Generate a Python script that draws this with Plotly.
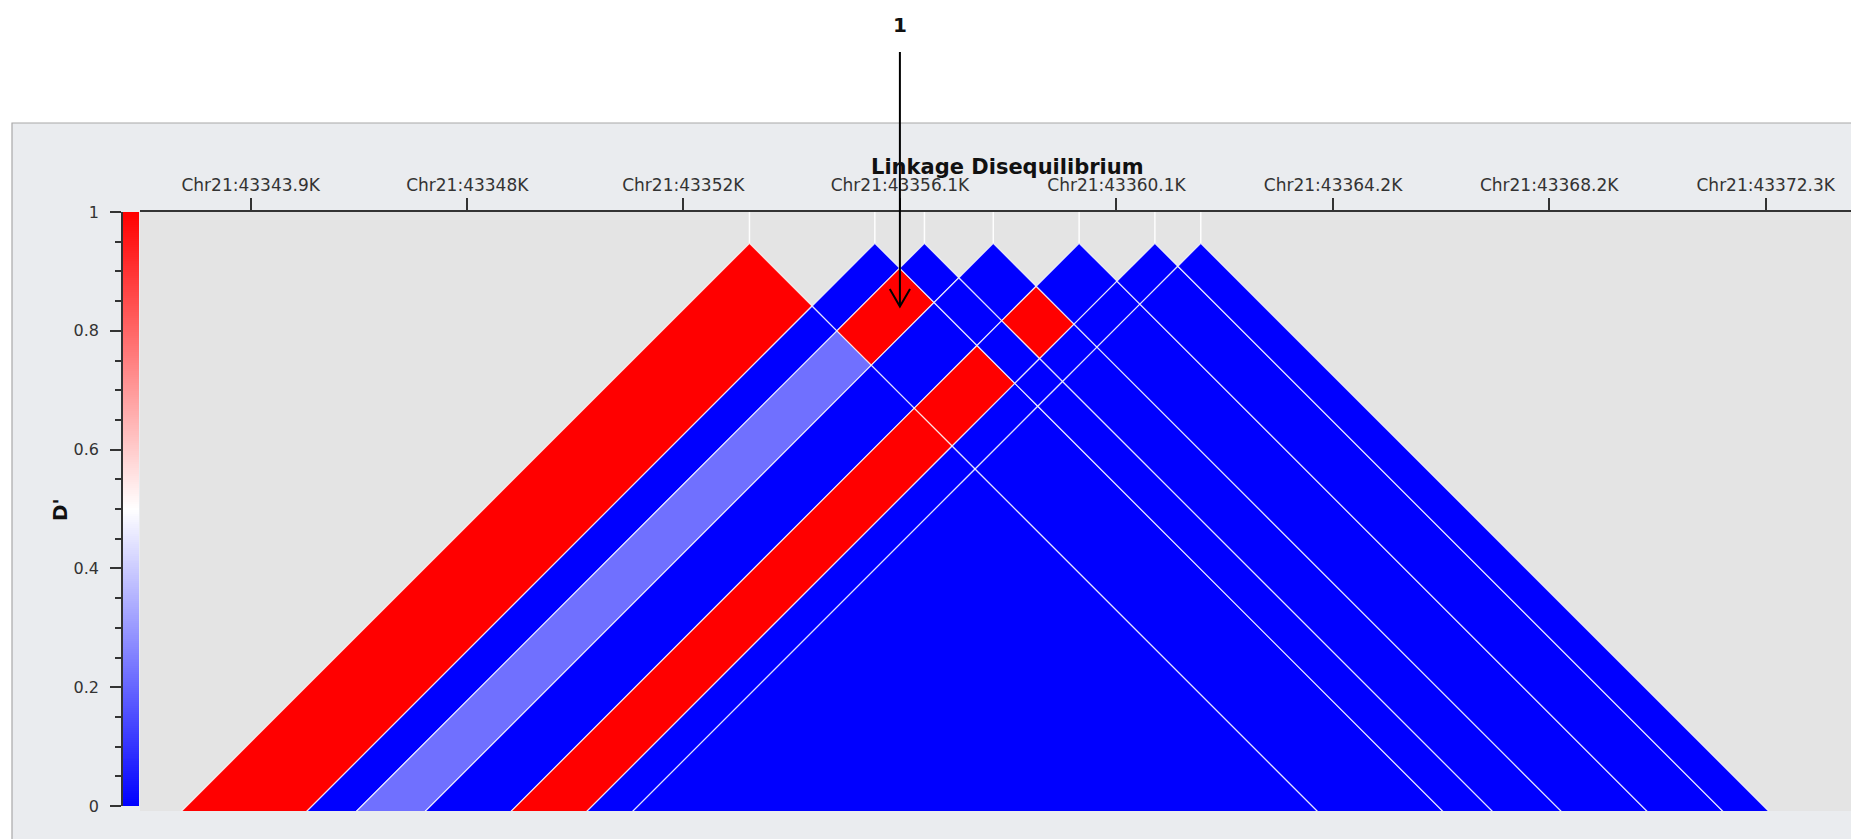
import plotly.graph_objects as go
from plotly.colors import sample_colorscale

# ---------------- data ----------------
# SNP positions (kb on Chr21)
snp_pos_kb = [43353.25, 43355.60, 43356.53, 43357.82, 43359.43, 43360.85, 43361.71]

# D' values per diagonal band: row a = band to the right of SNP a,
# entry b = cell crossing the band to the left of SNP b+1 (b = 0 is the outer band)
dprime_band1 = [1.00]
dprime_band2 = [0.00, 0.00]
dprime_band3 = [0.22, 1.00, 0.00]
dprime_band4 = [0.00, 0.00, 0.00, 0.00]
dprime_band5 = [1.00, 1.00, 0.00, 1.00, 0.00]
dprime_band6 = [0.00, 0.00, 0.00, 0.00, 0.00, 0.00]
dprime_band7 = [0.00, 0.00, 0.00, 0.00, 0.00, 0.00, 0.00]
dprime_rows = [dprime_band1, dprime_band2, dprime_band3, dprime_band4,
               dprime_band5, dprime_band6, dprime_band7]

tick_vals = [43343.90, 43347.96, 43352.01, 43356.07, 43360.13, 43364.19, 43368.24, 43372.30]
tick_text = ["Chr21:43343.9K", "Chr21:43348K", "Chr21:43352K", "Chr21:43356.1K",
             "Chr21:43360.1K", "Chr21:43364.2K", "Chr21:43368.2K", "Chr21:43372.3K"]

arrow_label = "1"
arrow_pos_kb = 43356.07

# ---------------- style / layout ----------------
OFF = 8                              # page body margin
W, H = 1859 - OFF, 839 - OFF
PL, PT, PB = 140 - OFF, 212 - OFF, 811 - OFF   # plot area (figure pixels)
PH = PB - PT
FONT = "DejaVu Sans"
colorscale = [[0.0, "#0000ff"], [0.5, "#ffffff"], [1.0, "#ff0000"]]
x_range = [43341.825, 43374.049]
y_range = [-10.642, 0.587]          # tips of the triangle at y = 0
EXT = 25.0
Y_CLIP = y_range[0] - 0.08


def px(x):
    """screen x (reference pixels) -> paper"""
    return (x - OFF) / W


def py(y):
    """screen y (reference pixels) -> paper"""
    return (PB - (y - OFF)) / PH


def clip_bottom(pts, ylim):
    """keep the part of a polygon with y >= ylim"""
    out = []
    m = len(pts)
    for i in range(m):
        p, q = pts[i], pts[(i + 1) % m]
        pin, qin = p[1] >= ylim, q[1] >= ylim
        if pin:
            out.append(p)
        if pin != qin:
            t = (ylim - p[1]) / (q[1] - p[1])
            out.append((p[0] + t * (q[0] - p[0]), ylim))
    return out


fig = go.Figure()

# LD cells
n = len(snp_pos_kb)
for a in range(1, n + 1):
    u_lo = snp_pos_kb[a - 1]
    u_hi = snp_pos_kb[a] if a < n else snp_pos_kb[-1] + EXT
    for b, val in enumerate(dprime_rows[a - 1]):
        v_lo = snp_pos_kb[b - 1] if b > 0 else snp_pos_kb[0] - EXT
        v_hi = snp_pos_kb[b]
        uv = [(u_lo, v_hi), (u_hi, v_hi), (u_hi, v_lo), (u_lo, v_lo)]
        pts = [((u + v) / 2, -(u - v) / 2) for u, v in uv]
        pts = clip_bottom(pts, Y_CLIP)
        pts.append(pts[0])
        col = sample_colorscale(colorscale, [val])[0]
        fig.add_trace(go.Scatter(
            x=[p[0] for p in pts], y=[p[1] for p in pts],
            mode="lines", fill="toself", fillcolor=col,
            line=dict(color="rgba(255,255,255,0.8)", width=1.2),
            hoverinfo="skip", showlegend=False))

# marker ticks from axis to triangle tips
mx, my = [], []
for p in snp_pos_kb:
    mx += [p, p, None]
    my += [0, y_range[1], None]
fig.add_trace(go.Scatter(x=mx, y=my, mode="lines",
                         line=dict(color="rgba(255,255,255,0.95)", width=1.5),
                         hoverinfo="skip", showlegend=False))

# colour bar as its own small axis
levels = [i / 300 for i in range(301)]
fig.add_trace(go.Heatmap(z=[[l] for l in levels], x=[0], y=levels,
                         colorscale=colorscale, zmin=0, zmax=1, showscale=False,
                         xaxis="x2", yaxis="y2", hoverinfo="skip"))

fig.update_layout(
    width=W, height=H,
    margin=dict(l=0, r=0, t=PT, b=H - PB, pad=0),
    paper_bgcolor="white", plot_bgcolor="rgba(0,0,0,0)",
    showlegend=False,
    xaxis=dict(domain=[PL / W, 1], range=x_range, side="top",
               showline=True, linecolor="#333333", linewidth=1.5,
               ticks="outside", ticklen=12, tickwidth=1.5, tickcolor="#333333",
               tickvals=tick_vals, ticktext=tick_text,
               tickfont=dict(family=FONT, size=17, color="#333333"),
               showgrid=False, zeroline=False, fixedrange=True),
    yaxis=dict(range=y_range, visible=False, showgrid=False, zeroline=False,
               fixedrange=True),
    xaxis2=dict(domain=[px(123), px(139)], range=[-0.5, 0.5], visible=False,
                anchor="y2", fixedrange=True),
    yaxis2=dict(domain=[py(806), 1], range=[0, 1], anchor="x2", side="left",
                showline=True, linecolor="#333333", linewidth=1.5,
                ticks="outside", ticklen=11, tickwidth=1.5, tickcolor="#333333",
                tick0=0, dtick=0.2, ticklabelstandoff=8,
                minor=dict(ticks="outside", ticklen=6, tickwidth=1.5,
                           tickcolor="#333333", dtick=0.05, tick0=0),
                tickfont=dict(family=FONT, size=16, color="#333333"),
                showgrid=False, zeroline=False, fixedrange=True),
    shapes=[
        dict(type="rect", xref="paper", yref="paper", layer="below",
             x0=px(12), x1=1.02, y0=-0.2, y1=py(123),
             fillcolor="#eaecef", line=dict(color="#a8a8a8", width=1.2)),
        dict(type="rect", xref="paper", yref="paper", layer="below",
             x0=PL / W, x1=1.0, y0=0, y1=1,
             fillcolor="#e4e4e4", line=dict(width=0)),
        dict(type="line", xref="x", yref="paper",
             x0=arrow_pos_kb, x1=arrow_pos_kb, y0=py(52), y1=py(306),
             line=dict(color="black", width=2)),
        dict(type="path", xref="x", yref="paper",
             path="M {a},{b} L {c},{d} L {e},{b}".format(
                 a=arrow_pos_kb - 0.19, b=py(289), c=arrow_pos_kb,
                 d=py(306.5), e=arrow_pos_kb + 0.19),
             line=dict(color="black", width=2)),
    ],
    annotations=[
        dict(text="<b>Linkage Disequilibrium</b>", xref="paper", yref="paper",
             x=px(1007), y=py(167), xanchor="center", yanchor="middle",
             showarrow=False, font=dict(family=FONT, size=21, color="#111111")),
        dict(text="<b>D'</b>", xref="paper", yref="paper",
             x=px(60), y=py(510), xanchor="center", yanchor="middle",
             textangle=-90, showarrow=False,
             font=dict(family=FONT, size=20, color="#111111")),
        dict(text="<b>" + arrow_label + "</b>", xref="x", yref="paper",
             x=arrow_pos_kb, y=py(25), xanchor="center", yanchor="middle",
             showarrow=False, font=dict(family=FONT, size=20, color="#111111")),
    ],
)

fig.write_html("out.html")
